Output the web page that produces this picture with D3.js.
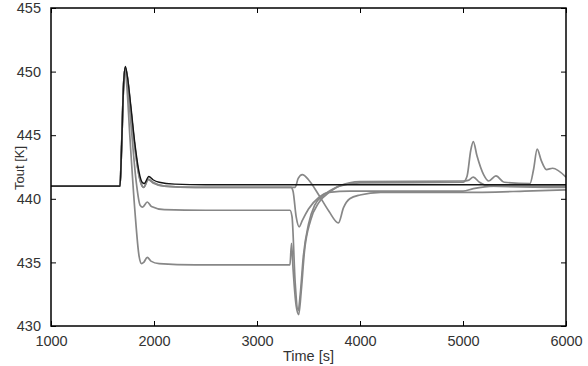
<!DOCTYPE html>
<html>
<head>
<meta charset="utf-8">
<script src="https://cdn.jsdelivr.net/npm/d3@7"></script>
<style>
  body { margin: 0; background: #fff; }
  svg { font-family: "Liberation Sans", Arial, sans-serif; }
</style>
</head>
<body>
<svg id="chart" width="588" height="366"></svg>
<script>
// x ticks and y ticks
const xTicks = [1000, 2000, 3000, 4000, 5000, 6000];
const yTicks = [430, 435, 440, 445, 450, 455];

// each run: [time s, Tout K]
const runBlack = [
  [1000, 441], [1670, 441], [1685, 444], [1705, 449], [1722, 450.4], [1742, 449.6],
  [1775, 447.3], [1815, 444.3], [1855, 442.1], [1885, 441.3], [1905, 441.2],
  [1950, 441.75], [1990, 441.5], [2050, 441.3], [2200, 441.15], [2500, 441.1], [6000, 441.1]
];
const runA = [
  [1000, 441], [1670, 441], [1685, 444], [1705, 449], [1722, 450.3], [1742, 449.5],
  [1775, 447], [1815, 444], [1855, 441.8], [1885, 441], [1900, 440.9],
  [1945, 441.55], [1990, 441.3], [2100, 441], [2400, 440.9], [3330, 440.9],
  [3350, 440.6], [3380, 438.6], [3410, 437.8], [3440, 438.3], [3500, 439.2],
  [3600, 440.1], [3700, 440.5], [3900, 440.6], [5000, 440.6], [5100, 440.8],
  [5300, 441], [6000, 441]
];
const runB = [
  [1000, 441], [1670, 441], [1685, 444], [1705, 449], [1720, 450.3], [1740, 449.2],
  [1775, 446], [1825, 441.5], [1865, 439.5], [1890, 439.35], [1935, 439.75],
  [1975, 439.4], [2100, 439.15], [2500, 439.1], [3320, 439.1], [3340, 438.6],
  [3370, 433.5], [3400, 431.2], [3420, 432.5], [3450, 435.5], [3500, 438],
  [3560, 439.5], [3650, 440.3], [3800, 441], [4000, 441.35], [5000, 441.4],
  [5050, 441.45], [5100, 441.7], [5160, 441.3], [5260, 441], [6000, 440.9]
];
const runC = [
  [1000, 441], [1670, 441], [1685, 444], [1705, 449], [1718, 450.2], [1735, 449],
  [1765, 445], [1815, 439], [1855, 435.5], [1880, 434.9], [1900, 435],
  [1935, 435.4], [1970, 435.1], [2050, 434.9], [2400, 434.8], [3320, 434.8],
  [3335, 436.5], [3350, 434.5], [3380, 431.6], [3405, 430.9], [3430, 432.8],
  [3460, 435.8], [3520, 438.3], [3600, 439.7], [3700, 440.5], [3800, 441],
  [4000, 441.25], [5000, 441.3], [5040, 441.8], [5075, 443.8], [5100, 444.5],
  [5135, 443.4], [5200, 441.9], [5250, 441.4], [5320, 441.8], [5400, 441.3],
  [5650, 441.2], [5685, 442.3], [5720, 443.9], [5760, 443], [5810, 442.3],
  [5870, 442.4], [6000, 441.7]
];
const runD = [
  [1000, 441], [1670, 441], [1685, 444], [1705, 449], [1722, 450.3], [1742, 449.5],
  [1775, 447], [1815, 444], [1855, 441.8], [1885, 441], [1900, 440.9],
  [1945, 441.5], [1990, 441.25], [2100, 441], [2400, 440.9], [3370, 440.9],
  [3400, 441.6], [3440, 441.9], [3500, 441.5], [3600, 440.3], [3700, 439],
  [3790, 438.1], [3840, 439.3], [3900, 440], [4000, 440.3], [4200, 440.5],
  [5000, 440.5], [5600, 440.6], [6000, 440.7]
];
const grayRuns = [runA, runB, runC, runD];

const svg = d3.select("#chart"),
  margin = { top: 8, right: 22, bottom: 40, left: 51 },
  width = +svg.attr("width") - margin.left - margin.right,
  height = +svg.attr("height") - margin.top - margin.bottom;

const g = svg.append("g").attr("transform", `translate(${margin.left}, ${margin.top})`);

const x = d3.scaleLinear().domain([1000, 6000]).range([0, width]);
const y = d3.scaleLinear().domain([430, 455]).range([height, 0]);

const line = d3.line()
  .curve(d3.curveMonotoneX)
  .x((d) => x(d[0]))
  .y((d) => y(d[1]));

g.append("defs").append("clipPath").attr("id", "clip")
  .append("rect").attr("width", width).attr("height", height);

const plot = g.append("g").attr("clip-path", "url(#clip)");

plot.selectAll("path.gray")
  .data(grayRuns)
  .enter()
  .append("path")
  .attr("class", "gray")
  .attr("d", line)
  .attr("fill", "none")
  .attr("stroke", "#878787")
  .attr("stroke-width", 1.7);

plot.append("path")
  .datum(runBlack)
  .attr("d", line)
  .attr("fill", "none")
  .attr("stroke", "#151515")
  .attr("stroke-width", 1.4);

// AXES (ticks pointing in, on all four sides)
const styleAxis = (sel) => {
  sel.select(".domain").remove();
  sel.selectAll(".tick line").attr("stroke", "#000").attr("stroke-width", 1);
  sel.selectAll(".tick text").attr("fill", "#333").style("font-size", "14.5px").style("font-family", "Liberation Sans, Arial, sans-serif");
};

g.append("g")
  .attr("transform", `translate(0, ${height})`)
  .call(d3.axisBottom(x).tickValues(xTicks).tickSizeInner(-5).tickSizeOuter(0).tickPadding(10).tickFormat(d3.format("d")))
  .call(styleAxis);

g.append("g")
  .call(d3.axisTop(x).tickValues(xTicks).tickSizeInner(-5).tickSizeOuter(0).tickFormat(""))
  .call(styleAxis);

g.append("g")
  .call(d3.axisLeft(y).tickValues(yTicks).tickSizeInner(-5).tickSizeOuter(0).tickPadding(10).tickFormat(d3.format("d")))
  .call(styleAxis);

g.append("g")
  .attr("transform", `translate(${width}, 0)`)
  .call(d3.axisRight(y).tickValues(yTicks).tickSizeInner(-5).tickSizeOuter(0).tickFormat(""))
  .call(styleAxis);

g.append("rect")
  .attr("width", width)
  .attr("height", height)
  .attr("fill", "none")
  .attr("stroke", "#000")
  .attr("stroke-width", 1.5);

// labels
svg.append("text")
  .attr("x", margin.left + width / 2)
  .attr("y", 361)
  .attr("text-anchor", "middle")
  .attr("fill", "#333")
  .style("font-size", "14.5px")
  .text("Time [s]");

svg.append("text")
  .attr("transform", `translate(24, ${margin.top + height / 2 + 1}) rotate(-90)`)
  .attr("text-anchor", "middle")
  .attr("fill", "#333")
  .style("font-size", "13px")
  .text("Tout [K]");
</script>
</body>
</html>
